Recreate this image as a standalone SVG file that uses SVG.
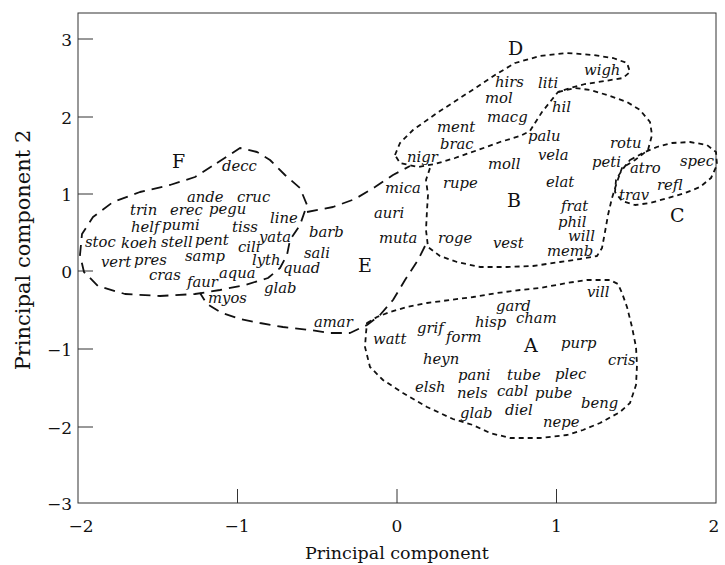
<svg xmlns="http://www.w3.org/2000/svg" width="725" height="565" viewBox="0 0 725 565">
<style>
.bg{fill:#fff}
.frame{fill:none;stroke:#333;stroke-width:1}
.tick{stroke:#333;stroke-width:1}
.tl{font-family:"DejaVu Serif","Liberation Serif",serif;font-size:17px;fill:#111}
.ax{font-family:"DejaVu Serif","Liberation Serif",serif;font-size:17.5px;fill:#111}
.ay{font-family:"DejaVu Serif","Liberation Serif",serif;font-size:21px;fill:#111}
.sp{font-family:"DejaVu Serif","Liberation Serif",serif;font-style:italic;font-size:14.8px;fill:#111}
.cl{font-family:"DejaVu Serif","Liberation Serif",serif;font-size:19px;fill:#111}
.long{fill:none;stroke:#111;stroke-width:1.8;stroke-dasharray:11 7;stroke-linejoin:round}
.short{fill:none;stroke:#111;stroke-width:1.8;stroke-dasharray:5 4;stroke-linejoin:round}
</style>
<rect class="bg" x="0" y="0" width="725" height="565"/>
<g id="axes">
<rect class="frame" x="78" y="13" width="638" height="490"/>
<g class="tick">
<line x1="78" y1="39" x2="93" y2="39"/>
<line x1="78" y1="117" x2="93" y2="117"/>
<line x1="78" y1="194" x2="93" y2="194"/>
<line x1="78" y1="271" x2="93" y2="271"/>
<line x1="78" y1="349" x2="93" y2="349"/>
<line x1="78" y1="427" x2="93" y2="427"/>
<line x1="237.5" y1="503" x2="237.5" y2="489"/>
<line x1="397" y1="503" x2="397" y2="489"/>
<line x1="556.5" y1="503" x2="556.5" y2="489"/>
</g>
<g class="tl" text-anchor="end">
<text x="72" y="46">3</text>
<text x="72" y="124">2</text>
<text x="72" y="201">1</text>
<text x="72" y="278">0</text>
<text x="72" y="356">−1</text>
<text x="72" y="434">−2</text>
<text x="72" y="510">−3</text>
</g>
<g class="tl" text-anchor="middle">
<text x="81" y="532">−2</text>
<text x="237" y="532">−1</text>
<text x="397" y="532">0</text>
<text x="556.5" y="532">1</text>
<text x="714" y="532">2</text>
</g>
<text class="ax" x="397" y="559" text-anchor="middle">Principal component</text>
<text class="ay" transform="translate(30,250) rotate(-90)" text-anchor="middle">Principal component 2</text>
</g>
<g id="cluster-F">
<path class="long" d="M217,163 L240,148 L257,152 L270,160 L285,175 L300,188 L307,205 L300,225 L290,240 L287,255 L280,268 L268,278 L245,285 L220,290 L195,294 L160,296 L125,294 L98,286 L84,272 L80,255 L82,234 L93,217 L113,202 L140,192 L170,185 L195,177 Z"/>
<text class="cl" x="172" y="168">F</text>
<g class="sp">
<text x="222" y="171">decc</text>
<text x="187" y="202">ande</text>
<text x="237" y="202">cruc</text>
<text x="130" y="215">trin</text>
<text x="170" y="215">erec</text>
<text x="209" y="214">pegu</text>
<text x="131" y="232">helf</text>
<text x="162" y="230">pumi</text>
<text x="232" y="232">tiss</text>
<text x="85" y="247">stoc</text>
<text x="121" y="248">koeh</text>
<text x="161" y="247">stell</text>
<text x="195" y="245">pent</text>
<text x="238" y="252">cili</text>
<text x="101" y="267">vert</text>
<text x="134" y="265">pres</text>
<text x="185" y="261">samp</text>
<text x="149" y="280">cras</text>
<text x="187" y="287">faur</text>
<text x="219" y="278">aqua</text>
<text x="208" y="303">myos</text>
<text x="270" y="223">line</text>
<text x="259" y="242">yata</text>
<text x="252" y="265">lyth</text>
<text x="283" y="273">quad</text>
<text x="264" y="293">glab</text>
</g>
</g>
<g id="cluster-E">
<path class="long" d="M307,212 L333,207 L355,199 L375,187 L393,175 L410,166"/>
<path class="long" d="M425,246 L418,260 L405,280 L393,300 L380,315 L367,325 L350,333 L330,333 L310,330 L283,327 L260,323 L240,319 L222,313 L207,304 L200,293"/>
<text class="cl" x="358" y="272">E</text>
<g class="sp">
<text x="309" y="237">barb</text>
<text x="304" y="258">sali</text>
<text x="314" y="327">amar</text>
<text x="385" y="193">mica</text>
<text x="374" y="218">auri</text>
<text x="379" y="243">muta</text>
</g>
</g>
<g id="cluster-D">
<path class="short" d="M395,155 L400,143 L413,130 L437,113 L457,100 L477,87 L495,75 L515,63 L540,56 L567,53 L593,55 L613,58 L627,63 L630,72 L623,78 L605,81 L585,84 L570,88 L558,92 L550,102 L542,112 L535,123 L530,131 L520,136 L500,142 L478,150 L455,158 L435,164 L418,167 L400,163 Z"/>
<text class="cl" x="508" y="55">D</text>
<g class="sp">
<text x="584" y="75">wigh</text>
<text x="495" y="87">hirs</text>
<text x="538" y="88">liti</text>
<text x="485" y="103">mol</text>
<text x="552" y="112">hil</text>
<text x="487" y="122">macg</text>
<text x="437" y="132">ment</text>
<text x="528" y="141">palu</text>
<text x="440" y="149">brac</text>
<text x="407" y="162">nigr</text>
</g>
</g>
<g id="cluster-B">
<path class="short" d="M558,92 L575,88 L590,90 L607,95 L627,102 L640,110 L650,122 L652,135 L648,150 L635,160 L622,168 L617,182 L612,198 L608,215 L605,232 L602,248 L597,256 L580,259 L560,262 L533,266 L507,267 L480,267 L457,262 L440,256 L428,247 L426,230 L427,210 L428,195 L426,180 L430,168"/>
<text class="cl" x="507" y="207">B</text>
<g class="sp">
<text x="488" y="169">moll</text>
<text x="538" y="160">vela</text>
<text x="610" y="148">rotu</text>
<text x="592" y="167">peti</text>
<text x="546" y="187">elat</text>
<text x="443" y="188">rupe</text>
<text x="561" y="211">frat</text>
<text x="558" y="227">phil</text>
<text x="568" y="241">will</text>
<text x="547" y="256">memb</text>
<text x="438" y="243">roge</text>
<text x="493" y="248">vest</text>
</g>
</g>
<g id="cluster-C">
<path class="short" d="M630,160 L645,152 L657,147 L672,143 L690,142 L707,145 L716,152 L717,165 L711,178 L700,187 L685,193 L668,198 L650,203 L635,205 L622,201 L615,192 L616,180 L622,170 Z"/>
<text class="cl" x="670" y="222">C</text>
<g class="sp">
<text x="630" y="173">atro</text>
<text x="680" y="166">spec</text>
<text x="657" y="190">refl</text>
<text x="619" y="200">trav</text>
</g>
</g>
<g id="cluster-A">
<path class="short" d="M367,323 L377,317 L390,312 L407,307 L427,303 L450,300 L473,297 L497,293 L520,290 L540,288 L567,283 L587,280 L610,280 L618,284 L622,293 L627,307 L632,327 L636,347 L637,365 L636,385 L630,403 L620,412 L600,423 L583,430 L567,435 L540,438 L510,438 L490,433 L473,425 L453,419 L427,407 L403,393 L383,380 L370,367 L365,347 L366,333 Z"/>
<text class="cl" x="524" y="352">A</text>
<g class="sp">
<text x="496" y="311">gard</text>
<text x="475" y="327">hisp</text>
<text x="516" y="323">cham</text>
<text x="417" y="333">grif</text>
<text x="446" y="342">form</text>
<text x="373" y="344">watt</text>
<text x="423" y="364">heyn</text>
<text x="458" y="380">pani</text>
<text x="507" y="380">tube</text>
<text x="415" y="392">elsh</text>
<text x="457" y="398">nels</text>
<text x="497" y="396">cabl</text>
<text x="460" y="418">glab</text>
<text x="505" y="415">diel</text>
<text x="587" y="297">vill</text>
<text x="561" y="348">purp</text>
<text x="608" y="365">cris</text>
<text x="555" y="379">plec</text>
<text x="535" y="398">pube</text>
<text x="581" y="408">beng</text>
<text x="543" y="427">nepe</text>
</g>
</g>
</svg>
